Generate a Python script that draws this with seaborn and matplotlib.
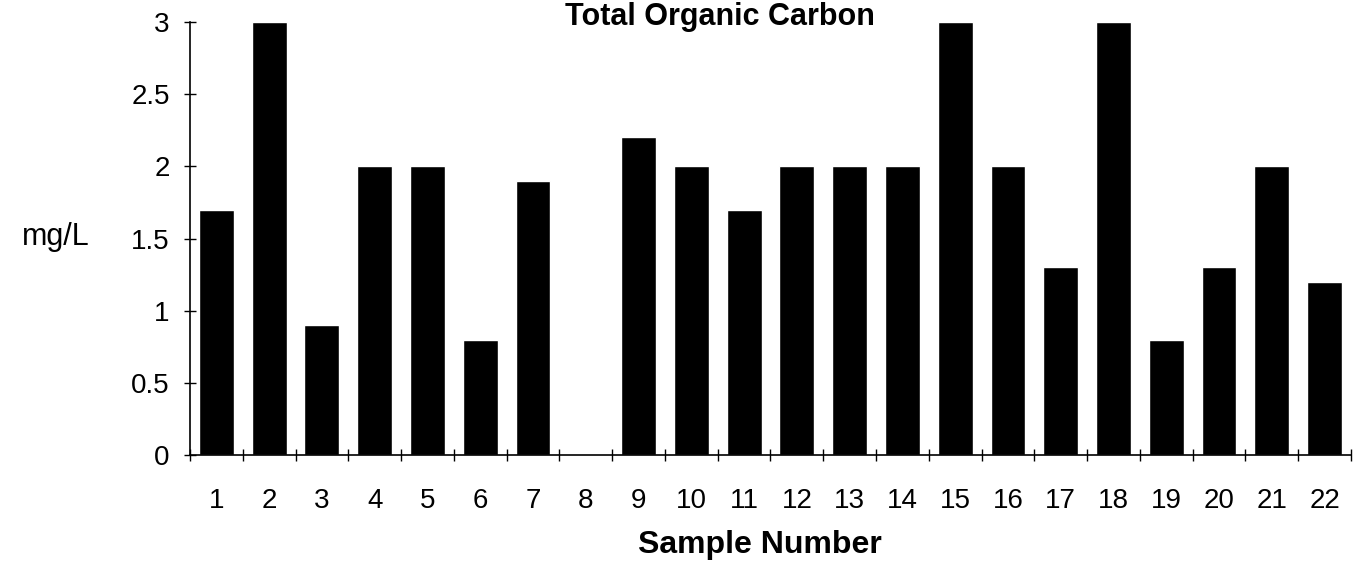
import numpy as np
import pandas as pd
import matplotlib
matplotlib.use('Agg')
import matplotlib.pyplot as plt
import seaborn as sns

# Datos: Carbono orgánico total por muestra
muestras = [str(i) for i in range(1, 23)]
toc_mg_l = [1.7, 3.0, 0.9, 2.0, 2.0, 0.8, 1.9, 0.0, 2.2, 2.0, 1.7,
            2.0, 2.0, 2.0, 3.0, 2.0, 1.3, 3.0, 0.8, 1.3, 2.0, 1.2]
y_ticks = [0, 0.5, 1, 1.5, 2, 2.5, 3]
y_tick_labels = ['0', '0.5', '1', '1.5', '2', '2.5', '3']

sns.set_style('white', {'xtick.bottom': True, 'ytick.left': True,
                        'text.color': 'black', 'xtick.color': 'black',
                        'ytick.color': 'black', 'axes.labelcolor': 'black'})
plt.rcParams['font.family'] = ['Liberation Sans', 'DejaVu Sans']

datos = pd.DataFrame({'Muestra': muestras, 'TOC': toc_mg_l})

fig = plt.figure(figsize=(13.54, 5.65), dpi=100)
ax = fig.add_axes([0.1403, 0.1947, 0.8575, 0.7663])

sns.barplot(data=datos, x='Muestra', y='TOC', color='black', width=0.66,
            saturation=1, ax=ax)

ax.set_xlim(-0.5, len(muestras) - 0.5)
ax.set_ylim(0, 3)
ax.set_yticks(y_ticks)
ax.set_yticklabels(y_tick_labels)

# marcas del eje x entre categorías
ax.set_xticks(np.arange(-0.5, len(muestras), 1.0), minor=True)
ax.tick_params(axis='x', which='major', length=0, labelsize=20, pad=24,
               labelcolor='black')
ax.tick_params(axis='x', which='minor', length=9, width=1, direction='inout',
               color='black')
ax.tick_params(axis='y', length=9, width=1, direction='inout', labelsize=20,
               pad=10, color='black', labelcolor='black')

for lado in ['top', 'right']:
    ax.spines[lado].set_visible(False)
for lado in ['left', 'bottom']:
    ax.spines[lado].set_color('black')
    ax.spines[lado].set_linewidth(1.2)

ax.set_xlabel('')
ax.set_ylabel('')

fig.text(0.532, 1 - 25 / 565, 'Total Organic Carbon', ha='center', va='baseline',
         fontsize=22, fontweight='bold', color='black')
fig.text(0.561, 1 - 553 / 565, 'Sample Number', ha='center', va='baseline',
         fontsize=23, fontweight='bold', color='black')
fig.text(0.041, 1 - 245 / 565, 'mg/L', ha='center', va='baseline', fontsize=22,
         color='black')

fig.savefig('out.png', dpi=100)
